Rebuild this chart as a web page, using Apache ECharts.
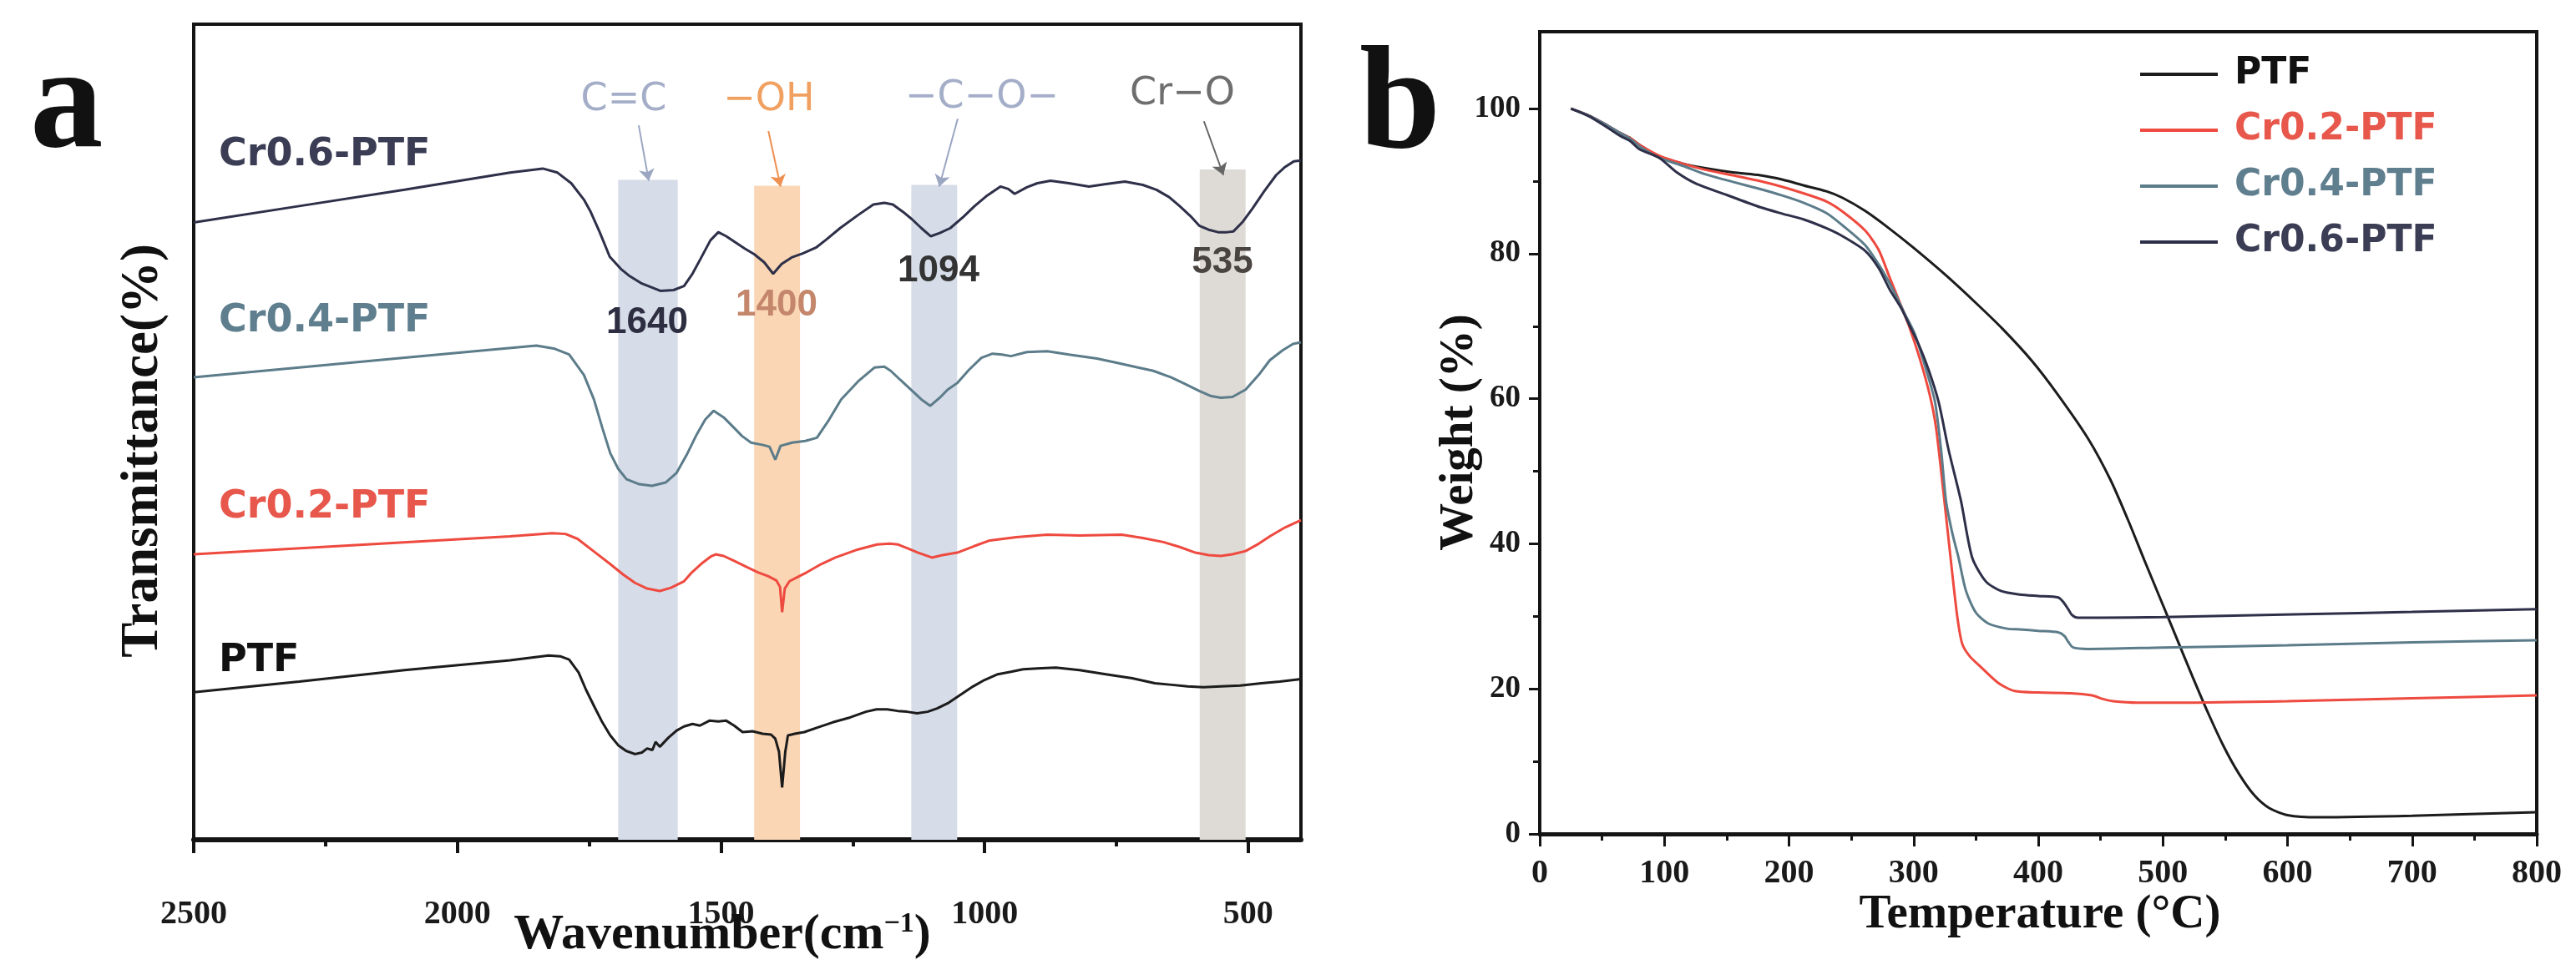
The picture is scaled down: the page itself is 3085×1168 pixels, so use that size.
<!DOCTYPE html>
<html><head><meta charset="utf-8">
<script src="https://cdn.jsdelivr.net/npm/echarts@6/dist/echarts.min.js"></script>
<style>html,body{margin:0;padding:0;background:#fff}#c{width:3085px;height:1168px}</style>
</head><body><div id="c"></div>
<script>
// ---------- Panel a: FTIR (wavenumber, relative transmittance) ----------
const cr06Wave = [2500,2300,2100,1900,1838,1810,1784,1760,1748,1730,1711,1690,1675,1650,1615,1590,1570,1555,1539,1520,1505,1490,1474,1455,1437,1418,1401,1385,1366,1345,1320,1300,1274,1240,1211,1190,1174,1155,1138,1120,1102,1085,1065,1040,1019,995,970,955,943,920,900,875,840,802,770,734,700,674,650,630,610,593,575,557,540,528,510,492,470,447,430,413,400];
const cr06Val  = [75.7,77.7,79.7,81.8,82.3,81.8,80.5,78.5,77.1,74.5,71.5,70.0,69.2,68.2,67.3,67.4,67.9,69.3,71.2,73.5,74.5,74.0,73.3,72.5,71.8,70.8,69.4,70.6,71.4,71.9,72.6,73.6,75.0,76.6,77.9,78.1,77.9,77.0,76.1,75.0,74.0,74.4,75.0,76.4,77.7,79.0,80.1,79.8,79.2,80.0,80.5,80.8,80.5,80.1,80.4,80.7,80.3,79.7,78.8,77.7,76.5,75.3,74.8,74.5,74.5,74.6,75.8,77.4,79.5,81.5,82.5,83.2,83.3];

const cr04Wave = [2500,2300,2100,1950,1850,1815,1788,1760,1741,1725,1710,1695,1679,1655,1631,1605,1584,1565,1546,1530,1514,1495,1475,1460,1443,1420,1408,1397,1387,1365,1340,1318,1295,1272,1240,1209,1190,1178,1160,1140,1120,1103,1085,1070,1052,1030,1006,985,967,950,920,881,840,787,750,709,680,646,620,592,570,552,530,505,480,459,435,415,400];
const cr04Val  = [56.7,57.9,59.1,60.0,60.6,60.2,59.5,57.0,54.0,50.5,47.4,45.5,44.2,43.6,43.4,43.8,45.0,47.2,49.7,51.5,52.6,51.8,50.5,49.5,48.7,48.4,48.2,46.6,48.3,48.7,48.9,49.3,51.5,54.0,56.2,57.9,58.0,57.5,56.4,55.2,54.0,53.2,54.2,55.2,56.0,57.6,59.1,59.6,59.5,59.3,59.8,59.9,59.5,59.0,58.5,57.9,57.5,56.7,55.9,55.0,54.4,54.2,54.3,55.2,57.0,58.8,60.0,60.8,61.0];

const cr02Wave = [2500,2200,1900,1820,1795,1772,1740,1710,1685,1663,1640,1616,1595,1570,1555,1538,1520,1510,1495,1475,1450,1430,1410,1395,1388,1384,1379,1370,1355,1337,1310,1283,1240,1204,1180,1164,1145,1126,1100,1080,1052,1020,990,940,881,820,740,700,661,630,600,575,552,530,505,480,459,430,400];
const cr02Val  = [35.0,36.1,37.2,37.6,37.5,36.9,35.3,33.8,32.5,31.5,30.8,30.5,30.9,31.7,32.8,33.8,34.7,35.0,34.8,34.2,33.4,32.8,32.3,31.8,31.0,27.9,30.8,31.7,32.2,32.8,33.8,34.6,35.6,36.2,36.3,36.2,35.7,35.2,34.6,34.9,35.2,36.0,36.7,37.1,37.4,37.3,37.4,37.0,36.5,35.9,35.2,34.9,34.8,35.0,35.4,36.3,37.2,38.3,39.2];

const ptfWave = [2500,2300,2100,1900,1827,1805,1788,1770,1756,1740,1725,1710,1695,1680,1663,1650,1640,1630,1624,1616,1600,1584,1570,1554,1540,1522,1505,1490,1475,1459,1440,1421,1405,1397,1390,1384,1378,1373,1360,1342,1315,1288,1255,1225,1205,1185,1165,1147,1128,1108,1090,1068,1045,1022,1000,975,950,927,900,865,820,770,720,677,645,615,585,552,515,475,440,400];
const ptfVal  = [18.1,19.4,20.8,22.0,22.6,22.5,22.1,20.5,18.4,16.3,14.4,12.8,11.6,10.9,10.5,10.7,11.2,11.0,12.0,11.4,12.5,13.4,13.9,14.2,14.0,14.6,14.5,14.6,14.0,13.2,13.3,13.0,12.9,12.4,10.8,6.4,10.8,12.8,13.0,13.2,13.8,14.4,15.0,15.7,16.0,16.0,15.8,15.7,15.5,15.7,16.1,16.8,17.8,18.8,19.6,20.3,20.6,20.9,21.0,21.1,20.8,20.3,19.8,19.2,19.0,18.8,18.7,18.8,18.9,19.2,19.4,19.7];

// absorption bands
const bandNames = ['C=C','−OH','−C−O−','Cr−O'];
const bandFrom  = [1695, 1437, 1139, 592];
const bandTo    = [1582, 1350, 1052, 505];
const bandTop   = [80.9, 80.2, 80.3, 82.2];
const bandPeaks = ['1640','1400','1094','535'];
// arrows (wavenumber, value) start -> end
const arrowX1 = [1656, 1410, 1051, 584];
const arrowY1 = [87.6, 86.9, 88.4, 88.1];
const arrowX2 = [1637, 1387, 1086, 547];
const arrowY2 = [80.8, 80.1, 80.1, 81.5];

const ftirLabelStep = 500;
const ftirTicks  = [500, 1000, 1500, 2000, 2500];
const ftirMinor  = [750, 1250, 1750, 2250];

// ---------- Panel b: TGA (temperature, weight %) ----------
const ptfT = [25,40,55,65,72,80,96,115,132,155,177,195,212,230,243,261,281,300,326,350,371,395,416,440,458,472,485,498,511,524,537,549,561,573,585,600,625,700,800];
const ptfW = [100.0,99.0,97.6,96.6,96.0,95.0,93.4,92.4,91.8,91.2,90.8,90.2,89.4,88.6,87.7,85.9,83.4,80.8,77.0,73.2,69.7,65.2,60.5,54.5,48.8,43.3,37.8,32.4,27.0,21.6,16.4,12.0,8.3,5.4,3.6,2.6,2.3,2.5,3.0];

const cr02T = [25,40,55,65,72,80,96,115,132,155,177,195,212,230,243,261,272,281,290,297,305,313,318,324,330,335,339,345,354,368,381,400,426,443,452,460,480,511,600,700,800];
const cr02W = [100.0,99.0,97.6,96.6,96.0,95.0,93.5,92.4,91.6,90.8,90.0,89.2,88.3,87.2,85.8,83.2,80.5,76.6,72.8,69.7,65.5,60.5,56.0,47.0,37.5,30.0,26.2,24.5,23.0,20.8,19.7,19.5,19.4,19.1,18.6,18.3,18.1,18.1,18.3,18.7,19.1];

const cr04T = [25,40,55,65,72,80,96,115,132,155,177,195,212,230,243,261,272,283,292,301,310,317,322,326,331,336,342,350,360,375,385,400,416,421,424,428,440,500,600,700,800];
const cr04W = [100.0,99.0,97.6,96.6,95.9,94.8,93.2,92.1,91.0,89.9,88.9,88.0,87.0,85.6,83.9,81.2,78.5,75.2,72.0,68.9,64.0,59.7,53.0,45.9,41.5,38.1,33.5,30.5,29.0,28.3,28.2,28.0,27.8,27.3,26.5,25.7,25.5,25.7,26.0,26.4,26.7];

const cr06T = [25,40,55,65,72,80,96,110,126,150,177,195,212,230,243,261,272,281,290,297,304,312,320,328,338,347,358,370,385,400,416,420,424,427,432,450,500,613,700,800];
const cr06W = [100.0,98.9,97.3,96.2,95.6,94.4,93.2,91.2,89.6,88.1,86.4,85.5,84.7,83.5,82.4,80.4,78.0,75.0,72.5,70.0,67.5,64.0,59.6,53.0,45.9,38.1,34.8,33.5,33.0,32.8,32.6,32.0,31.0,30.2,29.8,29.8,29.9,30.3,30.6,31.0];

const tgaYLabels = [0, 20, 40, 60, 80, 100];
const tgaYMinor  = [10, 30, 50, 70, 90];

const names  = ['PTF', 'Cr0.2-PTF', 'Cr0.4-PTF', 'Cr0.6-PTF'];
const colors = ['#1c1c1c', '#ee4a3f', '#5c7c8a', '#2e3049'];
const labelColors = ['#111111', '#e8574b', '#5f7f8f', '#3b3d55'];
const bandColors  = ['#d6dce8', '#fad6b5', '#d6dce8', '#dedad6'];
const bandTextColors = ['#a4aec8', '#f0a060', '#a4aec8', '#6e6e6e'];
const arrowColors = ['#9aa6c2', '#ee9050', '#9aa6c2', '#666666'];
const peakColors  = ['#2e2e42', '#c4876c', '#333333', '#4a4440'];

const zip = (a, b) => a.map((v, i) => [v, b[i]]);

const serif = 'Liberation Serif';
const sansW = 'DejaVu Sans';
const axisLbl = {fontFamily: serif, fontWeight: 'bold', fontSize: 40, color: '#1a1a1a'};

const ftirSets = [[ptfWave, ptfVal], [cr02Wave, cr02Val], [cr04Wave, cr04Val], [cr06Wave, cr06Val]];
const tgaSets  = [[ptfT, ptfW], [cr02T, cr02W], [cr04T, cr04W], [cr06T, cr06W]];

const series = [];
series.push({
  name: 'bands', type: 'line', xAxisIndex: 0, yAxisIndex: 0, data: [], z: 1, silent: true,
  markArea: {
    silent: true,
    data: bandFrom.map((f, i) => [
      {xAxis: f, yAxis: 0, itemStyle: {color: bandColors[i], opacity: 1}},
      {xAxis: bandTo[i], yAxis: bandTop[i]}
    ])
  },
  markLine: {
    silent: true, symbol: ['none', 'arrow'], symbolSize: 14, animation: false,
    label: {show: false},
    data: arrowX1.map((x, i) => [
      {coord: [x, arrowY1[i]], lineStyle: {color: arrowColors[i], width: 2, type: 'solid'}},
      {coord: [arrowX2[i], arrowY2[i]]}
    ])
  }
});
ftirSets.forEach((s, i) => series.push({
  name: 'FTIR ' + names[i], type: 'line', xAxisIndex: 0, yAxisIndex: 0, z: 3,
  data: zip(s[0], s[1]), symbol: 'none', smooth: false,
  lineStyle: {width: 3, color: colors[i]}, itemStyle: {color: colors[i]}
}));
tgaSets.forEach((s, i) => series.push({
  name: names[i], type: 'line', xAxisIndex: 2, yAxisIndex: 1, z: 3,
  data: zip(s[0], s[1]), symbol: 'none', smooth: 0.25,
  lineStyle: {width: 3, color: colors[i]}, itemStyle: {color: colors[i]}
}));

const graphic = [];
const txt = (x, y, text, font, fill, align, extra) => Object.assign({
  type: 'text', x: x, y: y, silent: true, z: 100,
  style: Object.assign({text: text, fill: fill, align: align || 'left', verticalAlign: 'middle'}, font)
}, extra || {});

graphic.push(txt(36, 130, 'a', {fontFamily: serif, fontWeight: 'bold', fontSize: 175}, '#111'));
graphic.push(txt(1628, 131, 'b', {fontFamily: serif, fontWeight: 'bold', fontSize: 175}, '#111'));

const serLabelY = [792, 608, 385, 186];
names.forEach((n, i) => graphic.push(txt(262, serLabelY[i], n, {fontFamily: sansW, fontWeight: 'bold', fontSize: 46}, labelColors[i])));

const bandTextX = [747, 921, 1176, 1416];
const bandTextY = [120, 120, 117, 113];
bandNames.forEach((n, i) => graphic.push(txt(bandTextX[i], bandTextY[i], n, {fontFamily: sansW, fontSize: 46}, bandTextColors[i], 'center')));
const peakX = [775, 930, 1124, 1464];
const peakY = [387, 366, 325, 315];
bandPeaks.forEach((n, i) => graphic.push(txt(peakX[i], peakY[i], n, {fontFamily: 'Liberation Sans', fontWeight: 'bold', fontSize: 44}, peakColors[i], 'center')));

graphic.push(txt(172, 540, 'Transmittance(%)', {fontFamily: serif, fontWeight: 'bold', fontSize: 63}, '#111', 'center', {rotation: Math.PI / 2}));
graphic.push(txt(865, 1120, 'Wavenumber(cm{sup|−1})', {fontFamily: serif, fontWeight: 'bold', fontSize: 60,
  rich: {sup: {fontFamily: serif, fontWeight: 'bold', fontSize: 34, verticalAlign: 'top', fill: '#111'}}}, '#111', 'center'));
graphic.push(txt(1748, 518, 'Weight (%)', {fontFamily: serif, fontWeight: 'bold', fontSize: 57}, '#111', 'center', {rotation: Math.PI / 2}));
graphic.push(txt(2443, 1096, 'Temperature (°C)', {fontFamily: serif, fontWeight: 'bold', fontSize: 57}, '#111', 'center'));

const option = {
  animation: false,
  backgroundColor: '#ffffff',
  grid: [
    {left: 232, top: 29, width: 1326, height: 977, show: true, borderColor: '#141414', borderWidth: 4, backgroundColor: 'transparent'},
    {left: 1844, top: 38, width: 1194, height: 961, show: true, borderColor: '#141414', borderWidth: 4, backgroundColor: 'transparent'}
  ],
  xAxis: [
    {type: 'value', gridIndex: 0, inverse: true, min: 400, max: 2500, interval: 100, position: 'bottom',
     axisLine: {show: true, onZero: false, lineStyle: {color: '#141414', width: 6}},
     axisTick: {show: true, length: 16, inside: false, customValues: ftirTicks, lineStyle: {color: '#141414', width: 4}},
     axisLabel: {show: true, margin: 70, verticalAlign: 'top', showMinLabel: true, showMaxLabel: true, hideOverlap: false,
                 formatter: v => (v % ftirLabelStep === 0 ? String(v) : ''), ...axisLbl},
     splitLine: {show: false}},
    // minor ticks: placed at the top slot, shifted down onto the bottom edge
    {type: 'value', gridIndex: 0, inverse: true, min: 400, max: 2500, position: 'top', offset: -977,
     axisLine: {show: false, onZero: false},
     axisTick: {show: true, inside: true, length: 8, customValues: ftirMinor, lineStyle: {color: '#141414', width: 4}},
     axisLabel: {show: false}, splitLine: {show: false}},
    {type: 'value', gridIndex: 1, min: 0, max: 800, interval: 100, position: 'bottom',
     axisLine: {show: true, onZero: false, lineStyle: {color: '#141414', width: 5}},
     axisTick: {show: true, length: 15, lineStyle: {color: '#141414', width: 3}},
     minorTick: {show: true, splitNumber: 2, length: 8, lineStyle: {color: '#141414', width: 3}},
     axisLabel: {show: true, margin: 28, verticalAlign: 'top', showMinLabel: true, showMaxLabel: true, formatter: v => String(v), ...axisLbl},
     splitLine: {show: false}}
  ],
  yAxis: [
    {type: 'value', gridIndex: 0, min: 0, max: 100,
     axisLine: {show: true, onZero: false, lineStyle: {color: '#141414', width: 4}},
     axisTick: {show: false}, axisLabel: {show: false}, splitLine: {show: false}},
    {type: 'value', gridIndex: 1, min: 0, max: 110.6, position: 'left',
     axisLine: {show: true, onZero: false, lineStyle: {color: '#141414', width: 4}},
     axisTick: {show: true, length: 13, customValues: tgaYLabels, lineStyle: {color: '#141414', width: 3}},
     axisLabel: {show: true, customValues: tgaYLabels, margin: 23, formatter: v => String(v), ...axisLbl, fontSize: 37},
     splitLine: {show: false}},
    // minor ticks: placed at the right slot, shifted onto the left edge
    {type: 'value', gridIndex: 1, min: 0, max: 110.6, position: 'right', offset: -1194,
     axisLine: {show: false, onZero: false},
     axisTick: {show: true, inside: true, length: 8, customValues: tgaYMinor, lineStyle: {color: '#141414', width: 3}},
     axisLabel: {show: false}, splitLine: {show: false}}
  ],
  legend: {
    show: true, orient: 'vertical', left: 2558, top: 62, itemGap: 23,
    itemWidth: 93, itemHeight: 4, selectedMode: false, icon: 'rect',
    data: names.map((n, i) => ({name: n, icon: 'rect', itemStyle: {color: colors[i]}, textStyle: {color: labelColors[i]}})),
    textStyle: {fontFamily: sansW, fontWeight: 'bold', fontSize: 44, lineHeight: 44, padding: [0, 0, 0, 15]}
  },
  series: series,
  graphic: graphic
};

const chart = echarts.init(document.getElementById('c'), null, {renderer: 'canvas', width: 3085, height: 1168});
chart.setOption(option);
</script></body></html>
